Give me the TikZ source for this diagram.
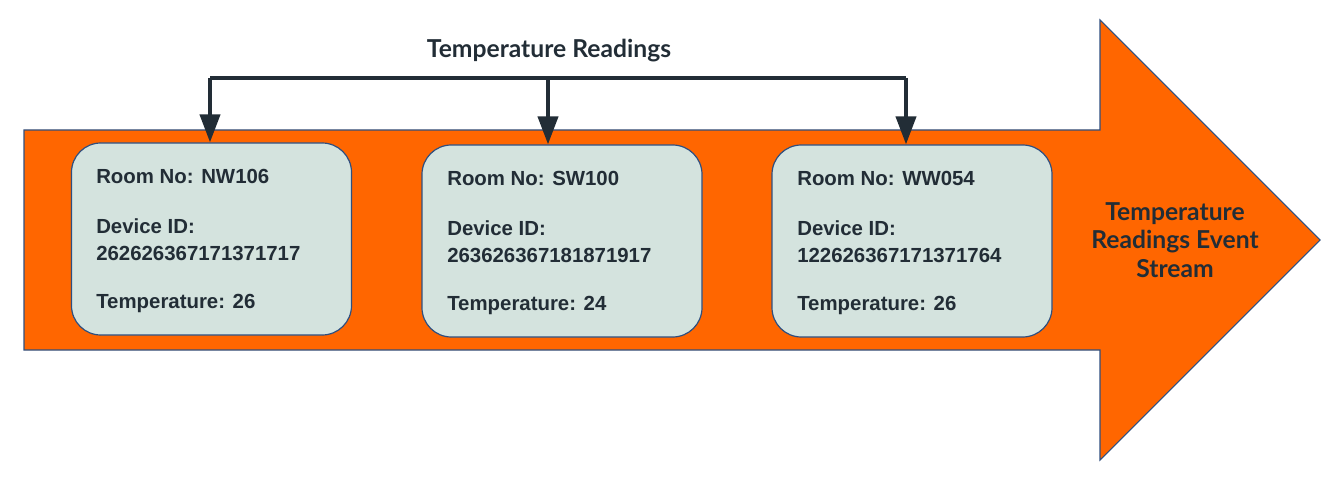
\documentclass[tikz,border=0pt]{standalone}
\usepackage{fontspec}
\setmainfont{Liberation Sans}
\newfontfamily\headfont{Lato}
\usepackage{tikz}
\usetikzlibrary{arrows.meta}

\definecolor{streamorange}{HTML}{FF6600}
\definecolor{cardfill}{HTML}{D4E3DE}
\definecolor{edgeblue}{HTML}{2F4F7F}
\definecolor{inkdark}{HTML}{222D36}

\begin{document}
\begin{tikzpicture}[x=0.75pt, y=-0.75pt,
    card/.style={draw=edgeblue, line width=0.9pt, fill=cardfill, rounded corners=22pt,
        minimum width=210pt, minimum height=144pt, inner sep=0pt},
    cardtext/.style={anchor=north west, align=left, inner sep=0pt, text=inkdark,
        font=\bfseries\fontsize{15.3}{20}\selectfont},
    feed/.style={draw=inkdark, line width=3pt, -{Triangle[length=21pt, width=15pt]}}]
    \useasboundingbox (0,0) rectangle (1335,488);

    % event stream arrow
    \fill[streamorange, draw=edgeblue, line width=0.8pt]
        (24,130) -- (1100,130) -- (1100,20) -- (1320,240) -- (1100,460) -- (1100,350) -- (24,350) -- cycle;
    \node[text=inkdark, align=center, font=\headfont\bfseries\fontsize{18.5}{21.5}\selectfont]
        (stream) at (1175,240) {Temperature\\Readings Event\\Stream};

    % readings
    \node[card] (roomA) at (211.5,239) {};
    \node[card] (roomB) at (562,241) {};
    \node[card] (roomC) at (912,241) {};

    \node[cardtext] (txtA) at (96,169)
        {Room No: NW106\\[17.5pt] Device ID:\\ 262626367171371717\\[16pt] Temperature: 26};
    \node[cardtext] (txtB) at (447,171)
        {Room No: SW100\\[17.5pt] Device ID:\\ 263626367181871917\\[16pt] Temperature: 24};
    \node[cardtext] (txtC) at (797,171)
        {Room No: WW054\\[17.5pt] Device ID:\\ 122626367171371764\\[16pt] Temperature: 26};

    % fan out
    \node[text=inkdark, font=\headfont\bfseries\fontsize{18.5}{20}\selectfont] (title) at (549,51) {Temperature Readings};
    \coordinate (jA) at (210,78);
    \coordinate (jB) at (548,78);
    \coordinate (jC) at (906,78);
    \draw[draw=inkdark, line width=3pt] (jA) -- (jC);
    \draw[feed] (jA) -- (jA |- roomA.north);
    \draw[feed] (jB) -- (jB |- roomB.north);
    \draw[feed] (jC) -- (jC |- roomC.north);
\end{tikzpicture}
\end{document}
